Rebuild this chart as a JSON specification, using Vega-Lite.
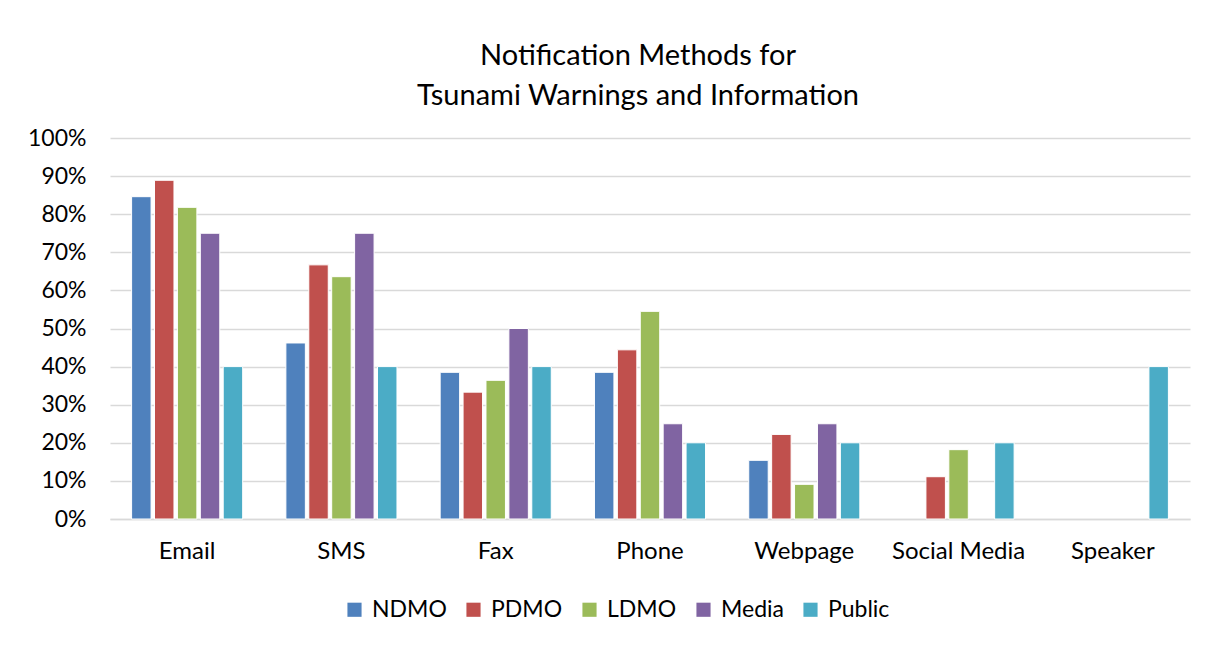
{
  "$schema": "https://vega.github.io/schema/vega-lite/v6.json",
  "autosize": {"type": "none"},
  "width": 1080,
  "height": 381,
  "padding": {"left": 110, "top": 138, "right": 24, "bottom": 127},
  "background": "white",
  "title": {
    "text": ["Notification Methods for", "Tsunami Warnings and Information"],
    "font": "Lato",
    "fontSize": 29,
    "fontWeight": "normal",
    "color": "#000000",
    "anchor": "middle",
    "lineHeight": 40,
    "offset": 16,
    "dx": -12
  },
  "data": {
    "values": [
      {"method": "Email", "group": "NDMO", "value": 0.846},
      {"method": "Email", "group": "PDMO", "value": 0.889},
      {"method": "Email", "group": "LDMO", "value": 0.818},
      {"method": "Email", "group": "Media", "value": 0.75},
      {"method": "Email", "group": "Public", "value": 0.40},
      {"method": "SMS", "group": "NDMO", "value": 0.462},
      {"method": "SMS", "group": "PDMO", "value": 0.667},
      {"method": "SMS", "group": "LDMO", "value": 0.636},
      {"method": "SMS", "group": "Media", "value": 0.75},
      {"method": "SMS", "group": "Public", "value": 0.40},
      {"method": "Fax", "group": "NDMO", "value": 0.385},
      {"method": "Fax", "group": "PDMO", "value": 0.333},
      {"method": "Fax", "group": "LDMO", "value": 0.364},
      {"method": "Fax", "group": "Media", "value": 0.50},
      {"method": "Fax", "group": "Public", "value": 0.40},
      {"method": "Phone", "group": "NDMO", "value": 0.385},
      {"method": "Phone", "group": "PDMO", "value": 0.444},
      {"method": "Phone", "group": "LDMO", "value": 0.545},
      {"method": "Phone", "group": "Media", "value": 0.25},
      {"method": "Phone", "group": "Public", "value": 0.20},
      {"method": "Webpage", "group": "NDMO", "value": 0.154},
      {"method": "Webpage", "group": "PDMO", "value": 0.222},
      {"method": "Webpage", "group": "LDMO", "value": 0.091},
      {"method": "Webpage", "group": "Media", "value": 0.25},
      {"method": "Webpage", "group": "Public", "value": 0.20},
      {"method": "Social Media", "group": "NDMO", "value": 0},
      {"method": "Social Media", "group": "PDMO", "value": 0.111},
      {"method": "Social Media", "group": "LDMO", "value": 0.182},
      {"method": "Social Media", "group": "Media", "value": 0},
      {"method": "Social Media", "group": "Public", "value": 0.20},
      {"method": "Speaker", "group": "NDMO", "value": 0},
      {"method": "Speaker", "group": "PDMO", "value": 0},
      {"method": "Speaker", "group": "LDMO", "value": 0},
      {"method": "Speaker", "group": "Media", "value": 0},
      {"method": "Speaker", "group": "Public", "value": 0.40}
    ]
  },
  "transform": [{"filter": "datum.value > 0"}],
  "mark": {"type": "bar", "stroke": "white", "strokeWidth": 1},
  "encoding": {
    "x": {
      "field": "method",
      "type": "nominal",
      "sort": ["Email", "SMS", "Fax", "Phone", "Webpage", "Social Media", "Speaker"],
      "scale": {"paddingInner": 0.28, "paddingOuter": 0.14},
      "axis": {
        "title": null,
        "labelAngle": 0,
        "labelFont": "Lato",
        "labelFontSize": 24,
        "labelColor": "#000000",
        "labelPadding": 20,
        "ticks": false,
        "domainColor": "#d9d9d9",
        "domainWidth": 1.5,
        "grid": false
      }
    },
    "xOffset": {
      "field": "group",
      "type": "nominal",
      "sort": ["NDMO", "PDMO", "LDMO", "Media", "Public"],
      "scale": {"domain": ["NDMO", "PDMO", "LDMO", "Media", "Public"], "paddingInner": 0.15, "paddingOuter": 0}
    },
    "y": {
      "field": "value",
      "type": "quantitative",
      "scale": {"domain": [0, 1], "nice": false},
      "axis": {
        "title": null,
        "format": ".0%",
        "values": [0, 0.1, 0.2, 0.3, 0.4, 0.5, 0.6, 0.7, 0.8, 0.9, 1],
        "labelFont": "Lato",
        "labelFontSize": 23,
        "labelColor": "#000000",
        "labelPadding": 24,
        "ticks": false,
        "domain": false,
        "grid": true,
        "gridColor": "#d9d9d9",
        "gridWidth": 1.5
      }
    },
    "color": {
      "field": "group",
      "type": "nominal",
      "sort": ["NDMO", "PDMO", "LDMO", "Media", "Public"],
      "scale": {
        "domain": ["NDMO", "PDMO", "LDMO", "Media", "Public"],
        "range": ["#4F81BD", "#C0504D", "#9BBB59", "#8064A2", "#4BACC6"]
      },
      "legend": {
        "title": null,
        "orient": "none",
        "direction": "horizontal",
        "legendX": 233,
        "legendY": 460,
        "symbolType": "square",
        "symbolSize": 200,
        "symbolStrokeWidth": 0,
        "labelFont": "Lato",
        "labelFontSize": 23,
        "labelColor": "#000000",
        "labelOffset": 6,
        "columnPadding": 15
      }
    }
  },
  "config": {"view": {"stroke": null}}
}
